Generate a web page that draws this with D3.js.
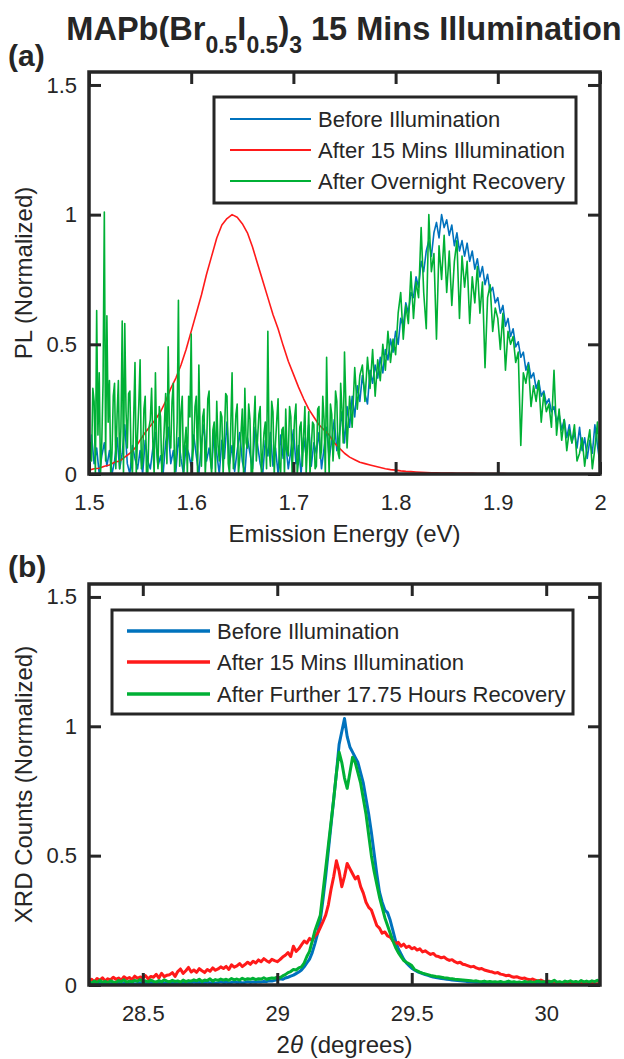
<!DOCTYPE html>
<html>
<head>
<meta charset="utf-8">
<script src="https://cdn.jsdelivr.net/npm/d3@7"></script>
<style>
  body { margin: 0; background: #fff; }
  svg text { font-family: "Liberation Sans", Arial, Helvetica, sans-serif; fill: #262626; }
</style>
</head>
<body>
<svg id="chart" width="624" height="1059"></svg>
<script>
/************************ data ***************************/
// (a) PL spectra, blue sampled every 0.0025 eV from 1.5 eV, red every 0.005 eV
var plBefore = [
  0.02, 0.15, 0.04, 0.10, 0.0, 0.07, 0.12, 0.03, 0.09, 0.0, 0.05, 0.14, 0.02, 0.08, 0.19, 0.04, 0.0, 0.11, 0.06, 0.02,
  0.09, 0.0, 0.13, 0.05, 0.02, 0.10, 0.16, 0.03, 0.07, 0.0, 0.12, 0.18, 0.04, 0.09, 0.01, 0.14, 0.06, 0.0, 0.11, 0.08,
  0.03, 0.15, 0.07, 0.0, 0.12, 0.19, 0.05, 0.10, 0.02, 0.17, 0.08, 0.0, 0.13, 0.06, 0.20, 0.04, 0.11, 0.01, 0.09, 0.16,
  0.05, 0.0, 0.14, 0.08, 0.02, 0.18, 0.11, 0.04, 0.0, 0.13, 0.07, 0.16, 0.03, 0.10, 0.0, 0.15, 0.06, 0.12, 0.02, 0.09,
  0.17, 0.04, 0.11, 0.0, 0.14, 0.07, 0.19, 0.03, 0.12, 0.08, 0.16, 0.02, 0.10, 0.18, 0.06, 0.13, 0.21, 0.09, 0.15, 0.24,
  0.12, 0.26, 0.18, 0.30, 0.22, 0.34, 0.28, 0.38, 0.31, 0.27, 0.40, 0.35, 0.42, 0.37, 0.45, 0.39, 0.48, 0.44, 0.52, 0.47,
  0.55, 0.50, 0.60, 0.57, 0.66, 0.62, 0.70, 0.68, 0.76, 0.72, 0.82, 0.78, 0.86, 0.90, 0.84, 0.93, 0.97, 0.91, 1.0, 0.95,
  0.98, 0.92, 0.96, 0.88, 0.93, 0.86, 0.90, 0.84, 0.89, 0.82, 0.86, 0.79, 0.83, 0.76, 0.80, 0.73, 0.77, 0.70, 0.72, 0.66,
  0.68, 0.62, 0.65, 0.57, 0.60, 0.53, 0.56, 0.49, 0.51, 0.45, 0.47, 0.40, 0.43, 0.37, 0.39, 0.33, 0.36, 0.30, 0.32, 0.27,
  0.29, 0.24, 0.26, 0.20, 0.23, 0.17, 0.21, 0.14, 0.19, 0.12, 0.16, 0.10, 0.18, 0.09, 0.14, 0.06, 0.13, 0.08, 0.19, 0.11,
  0.04
];
// green: every 0.00125 eV below 1.75 eV (noisy tail), then every 0.0025 eV
var plOvernightLow = [
  0.0, 0.12, 0.05, 0.33, 0.28, 0.0, 0.63, 0.15, 0.39, 0.0, 0.12, 0.35, 1.01, 0.05, 0.61, 0.20, 0.36, 0.0, 0.08, 0.30,
  0.35, 0.02, 0.23, 0.36, 0.02, 0.18, 0.59, 0.0, 0.58, 0.24, 0.10, 0.31, 0.32, 0.05, 0.0, 0.22, 0.43, 0.0, 0.15, 0.27,
  0.44, 0.02, 0.05, 0.25, 0.30, 0.0, 0.0, 0.18, 0.21, 0.33, 0.12, 0.0, 0.39, 0.10, 0.02, 0.26, 0.22, 0.0, 0.08, 0.19,
  0.31, 0.04, 0.49, 0.14, 0.10, 0.28, 0.35, 0.0, 0.05, 0.20, 0.67, 0.03, 0.24, 0.30, 0.0, 0.12, 0.18, 0.0, 0.30, 0.22,
  0.54, 0.05, 0.12, 0.26, 0.30, 0.0, 0.42, 0.15, 0.03, 0.22, 0.25, 0.0, 0.10, 0.29, 0.32, 0.06, 0.0, 0.17, 0.20, 0.0,
  0.28, 0.11, 0.05, 0.24, 0.22, 0.0, 0.15, 0.31, 0.30, 0.04, 0.0, 0.19, 0.39, 0.02, 0.12, 0.23, 0.27, 0.0, 0.06, 0.16,
  0.25, 0.0, 0.33, 0.12, 0.10, 0.27, 0.21, 0.0, 0.0, 0.19, 0.30, 0.05, 0.14, 0.23, 0.26, 0.0, 0.08, 0.16, 0.20, 0.02,
  0.55, 0.10, 0.03, 0.28, 0.24, 0.0, 0.12, 0.21, 0.29, 0.04, 0.0, 0.17, 0.18, 0.0, 0.25, 0.09, 0.07, 0.26, 0.22, 0.0,
  0.12, 0.22, 0.27, 0.0, 0.05, 0.18, 0.20, 0.03, 0.15, 0.26, 0.0, 0.11, 0.24, 0.0, 0.10, 0.20, 0.19, 0.02, 0.03, 0.25,
  0.26, 0.06, 0.09, 0.30, 0.21, 0.0, 0.45, 0.15, 0.0, 0.27, 0.23, 0.05, 0.14, 0.32, 0.28, 0.08, 0.06, 0.35, 0.25, 0.12
];
var plOvernightHigh = [
  0.47, 0.10, 0.30, 0.18, 0.41, 0.25, 0.38, 0.42, 0.28, 0.45, 0.33, 0.48, 0.30, 0.44, 0.36, 0.50, 0.40, 0.55, 0.43, 0.52,
  0.46, 0.62, 0.70, 0.52, 0.65, 0.58, 0.78, 0.60, 0.74, 0.68, 0.95, 0.70, 0.56, 1.0, 0.78, 0.85, 0.52, 0.88, 0.75, 0.92,
  0.70, 0.86, 0.65, 0.82, 0.90, 0.60, 0.84, 0.72, 0.82, 0.58, 0.76, 0.66, 0.80, 0.62, 0.74, 0.41, 0.68, 0.73, 0.55, 0.64,
  0.60, 0.48, 0.62, 0.40, 0.55, 0.50, 0.53, 0.43, 0.47, 0.11, 0.39, 0.35, 0.42, 0.26, 0.34, 0.28, 0.36, 0.20, 0.31, 0.24,
  0.27, 0.18, 0.40, 0.15, 0.25, 0.13, 0.21, 0.09, 0.17, 0.12, 0.19, 0.05, 0.08, 0.14, 0.03, 0.11, 0.17, 0.02, 0.10, 0.20,
  0.0
];
var plAfter = [
  0.015, 0.02, 0.022, 0.03, 0.035, 0.045, 0.05, 0.065, 0.08, 0.10,
  0.13, 0.16, 0.185, 0.21, 0.24, 0.28, 0.33, 0.37, 0.42, 0.48,
  0.55, 0.62, 0.69, 0.77, 0.84, 0.91, 0.96, 0.985, 1.0, 0.99,
  0.965, 0.93, 0.875, 0.81, 0.745, 0.68, 0.615, 0.56, 0.495, 0.435,
  0.385, 0.335, 0.29, 0.25, 0.22, 0.19, 0.17, 0.15, 0.12, 0.10,
  0.08, 0.065, 0.055, 0.045, 0.04, 0.035, 0.03, 0.025, 0.02, 0.017,
  0.015, 0.012, 0.01, 0.009, 0.008, 0.007, 0.006, 0.005, 0.005, 0.004,
  0.004, 0.004, 0.003, 0.003, 0.003, 0.003, 0.002, 0.002, 0.002, 0.002,
  0.002, 0.002, 0.001, 0.001, 0.001, 0.001, 0.001, 0.001, 0.001, 0.001,
  0.001, 0.0, 0.001, 0.0, 0.001, 0.0, 0.001, 0.0, 0.001, 0.0,
  0.0
];
var plEnergy = d3.range(plBefore.length).map(function(i){ return 1.5 + i * 0.0025; });
var plEnergyRed = d3.range(plAfter.length).map(function(i){ return 1.5 + i * 0.005; });
var plEnergyGreen = d3.range(plOvernightLow.length).map(function(i){ return 1.5 + i * 0.00125; })
  .concat(d3.range(plOvernightHigh.length).map(function(i){ return 1.75 + i * 0.0025; }));
var plOvernight = plOvernightLow.concat(plOvernightHigh);

// (b) XRD, sampled every 0.01 degree from 28.3
var xrdBefore = [
  0.004, 0.006, 0.003, 0.005, 0.007, 0.004, 0.006, 0.003, 0.005, 0.008,
  0.005, 0.007, 0.004, 0.006, 0.008, 0.005, 0.007, 0.004, 0.006, 0.009,
  0.006, 0.008, 0.005, 0.007, 0.009, 0.006, 0.008, 0.005, 0.007, 0.010,
  0.007, 0.009, 0.006, 0.008, 0.010, 0.007, 0.009, 0.006, 0.008, 0.011,
  0.008, 0.010, 0.007, 0.009, 0.011, 0.008, 0.010, 0.007, 0.009, 0.012,
  0.009, 0.011, 0.008, 0.010, 0.012, 0.009, 0.011, 0.008, 0.010, 0.013,
  0.010, 0.012, 0.011, 0.013, 0.012, 0.014, 0.013, 0.016, 0.015, 0.018,
  0.020, 0.024, 0.022, 0.027, 0.030, 0.034, 0.038, 0.044, 0.050, 0.058,
  0.070, 0.085, 0.10, 0.125, 0.16, 0.20, 0.25, 0.33, 0.42, 0.52,
  0.62, 0.72, 0.82, 0.93, 0.98, 1.03, 0.96, 0.92, 0.90, 0.88,
  0.86, 0.82, 0.78, 0.72, 0.66, 0.59, 0.51, 0.43, 0.36, 0.32,
  0.29, 0.28, 0.25, 0.21, 0.17, 0.14, 0.12, 0.10, 0.085, 0.075,
  0.065, 0.058, 0.052, 0.048, 0.044, 0.040, 0.037, 0.034, 0.031, 0.029,
  0.027, 0.025, 0.024, 0.022, 0.021, 0.019, 0.018, 0.017, 0.016, 0.015,
  0.014, 0.013, 0.013, 0.012, 0.011, 0.011, 0.010, 0.010, 0.009, 0.009,
  0.008, 0.009, 0.007, 0.008, 0.006, 0.008, 0.007, 0.006, 0.008, 0.005,
  0.007, 0.006, 0.008, 0.005, 0.007, 0.006, 0.004, 0.007, 0.005, 0.006,
  0.005, 0.007, 0.004, 0.006, 0.005, 0.003, 0.006, 0.004, 0.005, 0.003,
  0.005, 0.004, 0.006, 0.003, 0.005, 0.004, 0.002, 0.005, 0.003, 0.004,
  0.004
];
var xrdAfter = [
  0.015, 0.022, 0.012, 0.025, 0.018, 0.028, 0.016, 0.024, 0.020, 0.030,
  0.022, 0.027, 0.019, 0.032, 0.024, 0.029, 0.021, 0.034, 0.026, 0.031,
  0.028, 0.036, 0.024, 0.033, 0.030, 0.041, 0.027, 0.045, 0.032, 0.038,
  0.040, 0.048, 0.033, 0.052, 0.062, 0.045, 0.055, 0.068, 0.050, 0.058,
  0.049, 0.063, 0.055, 0.048, 0.060, 0.053, 0.066, 0.057, 0.062, 0.070,
  0.064, 0.072, 0.060, 0.078, 0.069, 0.074, 0.083, 0.071, 0.079, 0.088,
  0.080, 0.092, 0.085, 0.097, 0.090, 0.102, 0.094, 0.088, 0.099, 0.094,
  0.090, 0.098, 0.108, 0.115, 0.125, 0.110, 0.150, 0.130, 0.140, 0.155,
  0.170, 0.162, 0.180, 0.172, 0.190, 0.200, 0.222, 0.245, 0.270, 0.310,
  0.370, 0.420, 0.480, 0.440, 0.380, 0.420, 0.470, 0.450, 0.430, 0.410,
  0.420, 0.380, 0.355, 0.320, 0.300, 0.290, 0.260, 0.230, 0.220, 0.200,
  0.205, 0.190, 0.185, 0.170, 0.160, 0.165, 0.150, 0.158, 0.145, 0.150,
  0.140, 0.145, 0.135, 0.140, 0.128, 0.132, 0.125, 0.118, 0.122, 0.112,
  0.110, 0.105, 0.108, 0.100, 0.095, 0.098, 0.090, 0.085, 0.088, 0.080,
  0.078, 0.074, 0.070, 0.072, 0.066, 0.062, 0.064, 0.058, 0.055, 0.052,
  0.050, 0.046, 0.048, 0.042, 0.040, 0.036, 0.038, 0.033, 0.030, 0.032,
  0.028, 0.025, 0.027, 0.022, 0.020, 0.023, 0.018, 0.016, 0.019, 0.014,
  0.013, 0.015, 0.011, 0.012, 0.009, 0.011, 0.008, 0.010, 0.007, 0.009,
  0.006, 0.008, 0.005, 0.007, 0.004, 0.006, 0.005, 0.007, 0.004, 0.005,
  0.004
];
var xrdRecovery = [
  0.012, 0.008, 0.015, 0.010, 0.018, 0.011, 0.014, 0.009, 0.016, 0.012,
  0.010, 0.017, 0.013, 0.020, 0.011, 0.015, 0.012, 0.018, 0.014, 0.021,
  0.013, 0.016, 0.012, 0.019, 0.014, 0.011, 0.017, 0.013, 0.020, 0.015,
  0.012, 0.018, 0.014, 0.016, 0.011, 0.019, 0.013, 0.017, 0.015, 0.020,
  0.016, 0.022, 0.014, 0.019, 0.017, 0.024, 0.015, 0.021, 0.018, 0.023,
  0.019, 0.022, 0.018, 0.025, 0.020, 0.023, 0.019, 0.026, 0.021, 0.024,
  0.022, 0.026, 0.021, 0.024, 0.023, 0.028, 0.022, 0.025, 0.027, 0.026,
  0.030, 0.028, 0.035, 0.040, 0.048, 0.052, 0.060, 0.058, 0.066, 0.070,
  0.085, 0.11, 0.13, 0.17, 0.21, 0.24, 0.27, 0.36, 0.45, 0.54,
  0.63, 0.72, 0.82, 0.90, 0.86, 0.80, 0.76, 0.82, 0.88, 0.86,
  0.82, 0.78, 0.72, 0.66, 0.58, 0.50, 0.44, 0.39, 0.34, 0.30,
  0.26, 0.23, 0.20, 0.17, 0.145, 0.125, 0.11, 0.095, 0.088, 0.082,
  0.075, 0.060, 0.055, 0.050, 0.046, 0.043, 0.040, 0.037, 0.035, 0.033,
  0.032, 0.030, 0.028, 0.027, 0.025, 0.024, 0.022, 0.021, 0.020, 0.019,
  0.018, 0.017, 0.016, 0.015, 0.016, 0.014, 0.013, 0.015, 0.012, 0.014,
  0.012, 0.013, 0.011, 0.014, 0.010, 0.012, 0.015, 0.011, 0.013, 0.010,
  0.012, 0.009, 0.014, 0.011, 0.013, 0.010, 0.012, 0.016, 0.011, 0.013,
  0.010, 0.014, 0.012, 0.018, 0.011, 0.013, 0.009, 0.015, 0.012, 0.016,
  0.011, 0.014, 0.010, 0.017, 0.012, 0.015, 0.011, 0.016, 0.013, 0.018,
  0.012
];
var xrdAngle = d3.range(xrdBefore.length).map(function(i){ return 28.3 + i * 0.01; });

// ticks and labels
var plTicksX = [1.5, 1.6, 1.7, 1.8, 1.9, 2];
var xrdTicksX = [28.5, 29, 29.5, 30];
var ticksY = [0, 0.5, 1, 1.5];
var plLegend = ['Before Illumination', 'After 15 Mins Illumination', 'After Overnight Recovery'];
var xrdLegend = ['Before Illumination', 'After 15 Mins Illumination', 'After Further 17.75 Hours Recovery'];
var colors = ['#0072bd', '#ff1a1a', '#00b035'];

/************************ drawing ***************************/
var svg = d3.select('#chart');
var axisColor = '#262626';

function drawPanel(opt) {
  var g = svg.append('g');
  var x = d3.scaleLinear().domain(opt.xDomain).range([opt.left, opt.right]);
  var y = d3.scaleLinear().domain([0, 1.55]).range([opt.bottom, opt.top]);

  g.append('clipPath').attr('id', opt.id + '-clip')
    .append('rect')
    .attr('x', opt.left).attr('y', opt.top)
    .attr('width', opt.right - opt.left).attr('height', opt.bottom - opt.top);

  var line = d3.line()
    .x(function(d){ return x(d[0]); })
    .y(function(d){ return y(d[1]); });

  // series, in legend order (last one on top)
  opt.series.forEach(function(s, k) {
    var pts = s.x.map(function(v, i){ return [v, s.y[i]]; });
    g.append('path')
      .datum(pts)
      .attr('clip-path', 'url(#' + opt.id + '-clip)')
      .attr('fill', 'none')
      .attr('stroke', colors[k])
      .attr('stroke-width', opt.lineWidth)
      .attr('stroke-linejoin', 'round')
      .attr('d', line);
  });

  // axes with inward ticks on all four sides
  var tl = 12;
  g.append('g').attr('transform', 'translate(0,' + opt.bottom + ')')
    .call(d3.axisBottom(x).tickValues(opt.xTicks).tickSizeInner(-tl).tickSizeOuter(0).tickPadding(20)
      .tickFormat(function(d){ return String(d); }));
  g.append('g').attr('transform', 'translate(0,' + opt.top + ')')
    .call(d3.axisTop(x).tickValues(opt.xTicks).tickSizeInner(-tl).tickSizeOuter(0).tickFormat(''));
  g.append('g').attr('transform', 'translate(' + opt.left + ',0)')
    .call(d3.axisLeft(y).tickValues(ticksY).tickSizeInner(-tl).tickSizeOuter(0).tickPadding(12)
      .tickFormat(function(d){ return String(d); }));
  g.append('g').attr('transform', 'translate(' + opt.right + ',0)')
    .call(d3.axisRight(y).tickValues(ticksY).tickSizeInner(-tl).tickSizeOuter(0).tickFormat(''));

  g.selectAll('.domain').remove();
  g.selectAll('.tick line').attr('stroke', axisColor).attr('stroke-width', 3);
  g.selectAll('.tick text').attr('font-size', 22).attr('fill', '#262626')
    .style('font-family', '"Liberation Sans", Arial, sans-serif');

  // box
  g.append('rect')
    .attr('x', opt.left).attr('y', opt.top)
    .attr('width', opt.right - opt.left).attr('height', opt.bottom - opt.top)
    .attr('fill', 'none').attr('stroke', axisColor).attr('stroke-width', 3.5);

  // axis labels
  var xl = g.append('text')
    .attr('x', (opt.left + opt.right) / 2).attr('y', opt.bottom + 68)
    .attr('text-anchor', 'middle').attr('font-size', 24);
  opt.xLabel(xl);
  g.append('text')
    .attr('transform', 'translate(32,' + ((opt.top + opt.bottom) / 2) + ') rotate(-90)')
    .attr('text-anchor', 'middle').attr('font-size', 24)
    .text(opt.yLabel);

  // legend
  var L = opt.legend;
  g.append('rect')
    .attr('x', L.x0).attr('y', L.y0).attr('width', L.x1 - L.x0).attr('height', L.y1 - L.y0)
    .attr('fill', '#fff').attr('stroke', axisColor).attr('stroke-width', 3);
  L.labels.forEach(function(t, k) {
    var yy = L.rows[k];
    g.append('line')
      .attr('x1', L.lineX[0]).attr('x2', L.lineX[1]).attr('y1', yy).attr('y2', yy)
      .attr('stroke', colors[k]).attr('stroke-width', opt.legendLineWidth);
    g.append('text')
      .attr('x', L.textX).attr('y', yy).attr('dy', '0.35em')
      .attr('font-size', 22).attr('fill', '#000')
      .text(t);
  });

  // panel tag
  g.append('text')
    .attr('x', 8).attr('y', opt.tagY)
    .attr('font-size', 30).attr('font-weight', 'bold').attr('fill', '#000')
    .text(opt.tag);
}

// title with subscripts
var title = svg.append('text')
  .attr('x', 344).attr('y', 40)
  .attr('text-anchor', 'middle')
  .attr('font-size', 32.5).attr('font-weight', 'bold').attr('fill', '#000');
title.append('tspan').text('MAPb(Br');
title.append('tspan').attr('dy', 13).attr('font-size', 23).text('0.5');
title.append('tspan').attr('dy', -13).text('I');
title.append('tspan').attr('dy', 13).attr('font-size', 23).text('0.5');
title.append('tspan').attr('dy', -13).text(')');
title.append('tspan').attr('dy', 13).attr('font-size', 23).text('3');
title.append('tspan').attr('dy', -13).text(' 15 Mins Illumination');

drawPanel({
  id: 'pl', tag: '(a)', tagY: 66,
  left: 89, right: 600, top: 72, bottom: 474,
  xDomain: [1.5, 2], xTicks: plTicksX,
  lineWidth: 1.6, legendLineWidth: 1.8,
  series: [
    { x: plEnergy, y: plBefore },
    { x: plEnergyRed, y: plAfter },
    { x: plEnergyGreen, y: plOvernight }
  ],
  xLabel: function(t){ t.text('Emission Energy (eV)'); },
  yLabel: 'PL (Normalized)',
  legend: { x0: 214, x1: 576, y0: 97, y1: 203, rows: [119, 150, 181],
            lineX: [230, 311], textX: 318, labels: plLegend }
});

drawPanel({
  id: 'xrd', tag: '(b)', tagY: 577,
  left: 89, right: 600, top: 584, bottom: 985,
  xDomain: [28.3, 30.2], xTicks: xrdTicksX,
  lineWidth: 3, legendLineWidth: 3.5,
  series: [
    { x: xrdAngle, y: xrdBefore },
    { x: xrdAngle, y: xrdAfter },
    { x: xrdAngle, y: xrdRecovery }
  ],
  xLabel: function(t){
    t.append('tspan').text('2');
    t.append('tspan').attr('font-style', 'italic').text('θ');
    t.append('tspan').text(' (degrees)');
  },
  yLabel: 'XRD Counts (Normalized)',
  legend: { x0: 112, x1: 573, y0: 610, y1: 714, rows: [631, 662, 694],
            lineX: [127, 210], textX: 217, labels: xrdLegend }
});
</script>
</body>
</html>
